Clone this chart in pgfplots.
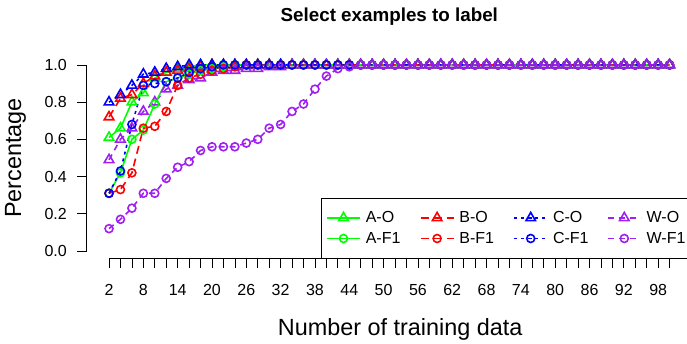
\documentclass[border=0pt]{standalone}
\usepackage{pgfplots}
\usepackage{pgfplotstable}
\pgfplotsset{compat=1.18}
\usepackage{fontspec}
\setmainfont{Liberation Sans}
\definecolor{rgreen}{HTML}{00FF00}
\definecolor{rred}{HTML}{FF0000}
\definecolor{rblue}{HTML}{0000FF}
\definecolor{rpurple}{HTML}{A020F0}
\pgfplotstableread{
x   AO   AF   BO   BF   CO   CF   WO   WF
2   0.61 0.31 0.72 0.31 0.80 0.31 0.49 0.12
4   0.66 0.42 0.82 0.33 0.84 0.43 0.60 0.17
6   0.80 0.60 0.84 0.42 0.89 0.68 0.66 0.23
8   0.85 0.65 0.90 0.66 0.95 0.89 0.75 0.31
10  0.93 0.79 0.94 0.67 0.96 0.90 0.80 0.31
12  0.96 0.91 0.96 0.75 0.98 0.91 0.87 0.39
14  0.98 0.93 0.97 0.89 0.99 0.93 0.89 0.45
16  0.99 0.95 0.98 0.93 1.00 0.96 0.92 0.48
18  1.00 0.97 0.99 0.95 1.00 0.98 0.93 0.54
20  1.00 0.98 1.00 0.97 1.00 0.99 0.96 0.56
22  1.00 0.99 1.00 0.98 1.00 1.00 0.97 0.56
24  1.00 1.00 1.00 0.99 1.00 1.00 0.97 0.56
26  1.00 1.00 1.00 1.00 1.00 1.00 0.98 0.58
28  1.00 1.00 1.00 1.00 1.00 1.00 0.98 0.60
30  1.00 1.00 1.00 1.00 1.00 1.00 0.99 0.66
32  1.00 1.00 1.00 1.00 1.00 1.00 0.99 0.68
34  1.00 1.00 1.00 1.00 1.00 1.00 1.00 0.75
36  1.00 1.00 1.00 1.00 1.00 1.00 1.00 0.79
38  1.00 1.00 1.00 1.00 1.00 1.00 1.00 0.87
40  1.00 1.00 1.00 1.00 1.00 1.00 1.00 0.94
42  1.00 1.00 1.00 1.00 1.00 1.00 1.00 0.98
44  1.00 1.00 1.00 1.00 1.00 1.00 1.00 0.99
46  1.00 1.00 1.00 1.00 1.00 1.00 1.00 1.00
48  1.00 1.00 1.00 1.00 1.00 1.00 1.00 1.00
50  1.00 1.00 1.00 1.00 1.00 1.00 1.00 1.00
52  1.00 1.00 1.00 1.00 1.00 1.00 1.00 1.00
54  1.00 1.00 1.00 1.00 1.00 1.00 1.00 1.00
56  1.00 1.00 1.00 1.00 1.00 1.00 1.00 1.00
58  1.00 1.00 1.00 1.00 1.00 1.00 1.00 1.00
60  1.00 1.00 1.00 1.00 1.00 1.00 1.00 1.00
62  1.00 1.00 1.00 1.00 1.00 1.00 1.00 1.00
64  1.00 1.00 1.00 1.00 1.00 1.00 1.00 1.00
66  1.00 1.00 1.00 1.00 1.00 1.00 1.00 1.00
68  1.00 1.00 1.00 1.00 1.00 1.00 1.00 1.00
70  1.00 1.00 1.00 1.00 1.00 1.00 1.00 1.00
72  1.00 1.00 1.00 1.00 1.00 1.00 1.00 1.00
74  1.00 1.00 1.00 1.00 1.00 1.00 1.00 1.00
76  1.00 1.00 1.00 1.00 1.00 1.00 1.00 1.00
78  1.00 1.00 1.00 1.00 1.00 1.00 1.00 1.00
80  1.00 1.00 1.00 1.00 1.00 1.00 1.00 1.00
82  1.00 1.00 1.00 1.00 1.00 1.00 1.00 1.00
84  1.00 1.00 1.00 1.00 1.00 1.00 1.00 1.00
86  1.00 1.00 1.00 1.00 1.00 1.00 1.00 1.00
88  1.00 1.00 1.00 1.00 1.00 1.00 1.00 1.00
90  1.00 1.00 1.00 1.00 1.00 1.00 1.00 1.00
92  1.00 1.00 1.00 1.00 1.00 1.00 1.00 1.00
94  1.00 1.00 1.00 1.00 1.00 1.00 1.00 1.00
96  1.00 1.00 1.00 1.00 1.00 1.00 1.00 1.00
98  1.00 1.00 1.00 1.00 1.00 1.00 1.00 1.00
100 1.00 1.00 1.00 1.00 1.00 1.00 1.00 1.00
}\datatab
\pgfplotsset{
  ser/.style={line width=1.6bp, mark options={solid, line width=1.6bp}},
  tri/.style={mark=triangle, mark size=5.5bp},
  cir/.style={mark=o, mark size=4bp},
  lA/.style={rgreen, solid},
  lB/.style={rred, dash pattern=on 8bp off 5bp},
  lC/.style={rblue, dash pattern=on 3bp off 4bp},
  lW/.style={rpurple, dash pattern=on 6bp off 5bp},
}
\begin{document}
\begin{tikzpicture}[x=1bp,y=1bp]
\path[use as bounding box] (0,0) rectangle (687,343);
\begin{axis}[
  at={(86.6bp,84.6bp)}, anchor=south west, scale only axis,
  width=605.4bp, height=200.9bp,
  xmin=-1.92, xmax=103.92, ymin=-0.04, ymax=1.04,
  axis lines*=left, axis line style={draw=none},
  clip=false,
  xtick={2,8,...,98}, minor xtick={2,4,...,100},
  ytick={0,0.2,0.4,0.6,0.8,1},
  tick align=outside, major tick length=9.3bp, minor tick length=9.3bp,
  tick style={black, line width=0.7bp},
  /pgf/number format/assume math mode=true,
  ticklabel style={font=\fontsize{16bp}{19bp}\selectfont},
  xticklabel style={yshift=-13bp},
  yticklabel style={xshift=-7bp, /pgf/number format/.cd, fixed, fixed zerofill, precision=1},
  title={Select examples to label},
  title style={font=\bfseries\fontsize{18.8bp}{22bp}\selectfont, at={(axis description cs:0.5,1.172)}, anchor=center},
  xlabel={Number of training data},
  xlabel style={font=\fontsize{23.4bp}{28bp}\selectfont, at={(axis description cs:0.518,-0.3514)}, anchor=center},
  ylabel={Percentage},
  ylabel style={font=\fontsize{23.4bp}{28bp}\selectfont, at={(axis description cs:-0.1173,0.5)}, anchor=center},
  legend columns=4,
  legend image code/.code={\draw[mark repeat=2, mark phase=2, #1] plot coordinates {(0bp,0bp) (16.5bp,0bp) (33bp,0bp)};},
  legend style={at={(axis description cs:1,0)}, anchor=south east, draw=black, line width=0.8bp, fill=white,
    inner xsep=5bp, inner ysep=12bp, row sep=5.6bp,
    font=\fontsize{16bp}{19bp}\selectfont,
    nodes={inner sep=0pt, text height=12bp, text depth=3bp},
    /tikz/every even column/.append style={column sep=14bp},
    /tikz/every odd column/.append style={column sep=5bp}},
]
\addplot[ser, lA, tri] table[x=x, y=AO] {\datatab};
\addlegendentry{\makebox[40bp][l]{A-O}}
\addplot[ser, lB, tri] table[x=x, y=BO] {\datatab};
\addlegendentry{\makebox[40bp][l]{B-O}}
\addplot[ser, lC, tri] table[x=x, y=CO] {\datatab};
\addlegendentry{\makebox[40bp][l]{C-O}}
\addplot[ser, lW, tri] table[x=x, y=WO] {\datatab};
\addlegendentry{\makebox[40bp][l]{W-O}}
\addplot[ser, lA, cir] table[x=x, y=AF] {\datatab};
\addlegendentry{\makebox[40bp][l]{A-F1}}
\addplot[ser, lB, cir] table[x=x, y=BF] {\datatab};
\addlegendentry{\makebox[40bp][l]{B-F1}}
\addplot[ser, lC, cir] table[x=x, y=CF] {\datatab};
\addlegendentry{\makebox[40bp][l]{C-F1}}
\addplot[ser, lW, cir] table[x=x, y=WF] {\datatab};
\addlegendentry{\makebox[40bp][l]{W-F1}}
\draw[black, line width=0.8bp] (axis cs:2,-0.04) -- (axis cs:100,-0.04);
\draw[black, line width=0.8bp] (axis cs:-1.92,0) -- (axis cs:-1.92,1);
\end{axis}
\end{tikzpicture}
\end{document}
